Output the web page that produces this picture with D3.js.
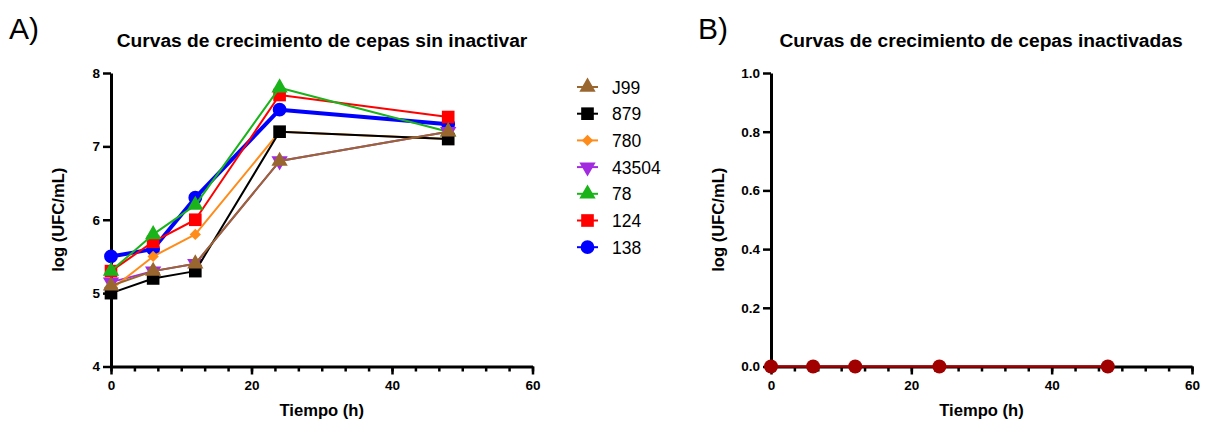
<!DOCTYPE html>
<html>
<head>
<meta charset="UTF-8">
<title>Curvas de crecimiento</title>
<script src="https://cdn.jsdelivr.net/npm/d3@7"></script>
<style>
  body { margin: 0; background: #fff; }
  svg { font-family: "Liberation Sans", Arial, sans-serif; }
  .tick text { font-weight: bold; font-size: 13.5px; fill: #000; }
  .tick line { stroke: #000; stroke-width: 2.5; }
  .domain { stroke: #000; stroke-width: 3; }
</style>
</head>
<body>
<svg id="chart" width="1205" height="424"></svg>
<script>
// sampling times (h)
const times = [0, 6, 12, 24, 48];

// log (UFC/mL) per strain, non-inactivated
const strains = ["J99", "879", "780", "43504", "78", "124", "138"];
const valJ99   = [5.1, 5.3, 5.4, 6.8, 7.2];
const val879   = [5.0, 5.2, 5.3, 7.2, 7.1];
const val780   = [5.05, 5.5, 5.8, 7.2, 7.1];
const val43504 = [5.15, 5.3, 5.4, 6.8, 7.2];
const val78    = [5.3, 5.8, 6.2, 7.8, 7.2];
const val124   = [5.3, 5.7, 6.0, 7.7, 7.4];
const val138   = [5.5, 5.6, 6.3, 7.5, 7.3];

// inactivated strains
const valInactivated = [0, 0, 0, 0, 0];

const yTicksA = [4, 5, 6, 7, 8];
const yTicksB = [0, 0.2, 0.4, 0.6, 0.8, 1.0];
const xTicks = [0, 20, 40, 60];

const seriesValues = [valJ99, val879, val780, val43504, val78, val124, val138];

// look of each strain
const styles = {
  "J99":   { color: "#9a6630", shape: "up",      width: 2 },
  "879":   { color: "#000000", shape: "square",  width: 2 },
  "780":   { color: "#ff8c1a", shape: "diamond", width: 2 },
  "43504": { color: "#a22be0", shape: "down",    width: 2 },
  "78":    { color: "#1ab31a", shape: "up",      width: 2 },
  "124":   { color: "#ff0000", shape: "square",  width: 2 },
  "138":   { color: "#0000ff", shape: "circle",  width: 4 }
};

const svg = d3.select("#chart");

function marker(g, shape, color) {
  let type = d3.symbolCircle, size = 150, rot = 0;
  if (shape === "square") { type = d3.symbolSquare; size = 160; }
  if (shape === "up") { type = d3.symbolTriangle; size = 115; }
  if (shape === "down") { type = d3.symbolTriangle; size = 115; rot = 180; }
  if (shape === "diamond") { type = d3.symbolSquare; size = 64; rot = 45; }
  return g.append("path")
    .attr("d", d3.symbol().type(type).size(size)())
    .attr("fill", color)
    .attr("data-rot", rot);
}

function drawAxes(x, y, yTicks, yFormat, title, cx) {
  const left = x.range()[0], bottom = y.range()[0];

  // minor x ticks
  svg.append("g")
    .attr("transform", `translate(0,${bottom})`)
    .call(d3.axisBottom(x).tickValues(d3.range(0, 60.01, 20 / 6)).tickSize(5).tickSizeOuter(0).tickFormat(""))
    .call(g => g.select(".domain").remove());

  svg.append("g")
    .attr("transform", `translate(0,${bottom})`)
    .call(d3.axisBottom(x).tickValues(xTicks).tickSize(8).tickSizeOuter(0).tickPadding(6));

  svg.append("g")
    .attr("transform", `translate(${left},0)`)
    .call(d3.axisLeft(y).tickValues(yTicks).tickSize(8).tickSizeOuter(0).tickPadding(3).tickFormat(yFormat));

  svg.append("text")
    .attr("x", cx).attr("y", 47)
    .attr("text-anchor", "middle")
    .attr("font-weight", "bold").attr("font-size", 19.2)
    .text(title);

  svg.append("text")
    .attr("x", (x.range()[0] + x.range()[1]) / 2).attr("y", 416)
    .attr("text-anchor", "middle")
    .attr("font-weight", "bold").attr("font-size", 16.6)
    .text("Tiempo (h)");

  svg.append("text")
    .attr("transform", `translate(${left - 47},${(y.range()[0] + y.range()[1]) / 2}) rotate(-90)`)
    .attr("text-anchor", "middle")
    .attr("font-weight", "bold").attr("font-size", 16.6)
    .text("log (UFC/mL)");
}

// ---------- Panel A ----------
const xA = d3.scaleLinear().domain([0, 60]).range([111, 532.5]);
const yA = d3.scaleLinear().domain([4, 8]).range([366.5, 73]);

drawAxes(xA, yA, yTicksA, d3.format("d"), "Curvas de crecimiento de cepas sin inactivar", 322);

const lineA = d3.line().x((d, i) => xA(times[i])).y(d => yA(d));

// last strain in legend is drawn first
for (let k = strains.length - 1; k >= 0; k--) {
  const name = strains[k], st = styles[name], vals = seriesValues[k];
  svg.append("path")
    .datum(vals)
    .attr("fill", "none")
    .attr("stroke", st.color)
    .attr("stroke-width", st.width)
    .attr("stroke-linejoin", "round")
    .attr("d", lineA);
  vals.forEach((v, i) => {
    const m = marker(svg, st.shape, st.color);
    m.attr("transform", `translate(${xA(times[i])},${yA(v)}) rotate(${m.attr("data-rot")})`);
  });
}

// legend
const legend = svg.append("g").attr("transform", "translate(577,87)");
strains.forEach((name, k) => {
  const st = styles[name];
  const row = legend.append("g").attr("transform", `translate(0,${k * 26.7})`);
  row.append("line")
    .attr("x1", 0).attr("x2", 21).attr("y1", 0).attr("y2", 0)
    .attr("stroke", st.color).attr("stroke-width", 2);
  const m = marker(row, st.shape, st.color);
  m.attr("transform", `translate(10.5,0) rotate(${m.attr("data-rot")})`);
  row.append("text")
    .attr("x", 35).attr("y", 6.5)
    .attr("font-size", 17.5)
    .text(name);
});

// ---------- Panel B ----------
const xB = d3.scaleLinear().domain([0, 60]).range([771, 1192]);
const yB = d3.scaleLinear().domain([0, 1]).range([366.5, 73]);

drawAxes(xB, yB, yTicksB, d3.format(".1f"), "Curvas de crecimiento de cepas inactivadas", 981);

svg.append("path")
  .datum(valInactivated)
  .attr("fill", "none")
  .attr("stroke", "#a00000")
  .attr("stroke-width", 2.5)
  .attr("d", d3.line().x((d, i) => xB(times[i])).y(d => yB(d)));

svg.selectAll(".pt-b")
  .data(valInactivated)
  .join("circle")
  .attr("class", "pt-b")
  .attr("cx", (d, i) => xB(times[i]))
  .attr("cy", d => yB(d))
  .attr("r", 7)
  .attr("fill", "#a00000");

// panel letters
svg.append("text").attr("x", 9).attr("y", 39).attr("font-size", 30).text("A)");
svg.append("text").attr("x", 698).attr("y", 39).attr("font-size", 30).text("B)");
</script>
</body>
</html>
